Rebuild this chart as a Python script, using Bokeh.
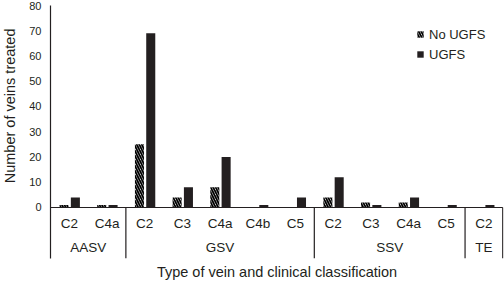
from bokeh.plotting import figure
from bokeh.models import Range1d, FixedTicker, Legend, LegendItem, ColumnDataSource, Title
from bokeh.core.properties import value
from bokeh.embed import file_html
from bokeh.resources import INLINE

# ---- data ----
groups = ["AASV", "GSV", "SSV", "TE"]
group_sizes = [2, 5, 4, 1]
classes = ["C2", "C4a", "C2", "C3", "C4a", "C4b", "C5", "C2", "C3", "C4a", "C5", "C2"]
no_ugfs = [1, 1, 25, 4, 8, 0, 0, 4, 2, 2, 0, 0]
ugfs = [4, 1, 69, 8, 20, 1, 4, 12, 1, 4, 1, 1]
y_ticks = [0, 10, 20, 30, 40, 50, 60, 70, 80]

FONT = "Liberation Sans"
INK = "#231f20"

n = len(classes)
p = figure(width=504, height=284, output_backend="svg", toolbar_location=None,
           x_range=Range1d(0, n + 0.02), y_range=Range1d(-20.2, 80),
           min_border_left=50, min_border_right=1, min_border_top=5, min_border_bottom=26)
p.outline_line_color = None
p.grid.visible = False
p.background_fill_color = "white"

# y axis
ya = p.yaxis[0]
ya.ticker = FixedTicker(ticks=y_ticks)
ya.minor_tick_line_color = None
ya.major_tick_line_color = None
ya.major_tick_out = 0
ya.major_tick_in = 0
ya.major_label_standoff = 9
ya.major_label_text_font = FONT
ya.major_label_text_font_size = "11px"
ya.major_label_text_color = INK
ya.axis_line_color = INK
ya.axis_line_width = 1.2
ya.axis_label = " "
ya.axis_label_text_font_size = "1px"
ya.axis_label_standoff = 2

p.add_layout(Title(text="Number of veins treated", align="right", offset=23, standoff=2,
                   vertical_align="top",
                   text_font=FONT, text_font_size="14.5px", text_font_style="normal",
                   text_color=INK), "left")

# x axis (title only)
xa = p.xaxis[0]
xa.ticker = FixedTicker(ticks=[])
xa.axis_line_color = None
xa.major_tick_line_color = None
xa.minor_tick_line_color = None
xa.major_tick_out = 0
xa.major_label_text_font_size = "0px"
xa.axis_label = "Type of vein and clinical classification"
xa.axis_label_text_font = FONT
xa.axis_label_text_font_size = "14.5px"
xa.axis_label_text_font_style = "normal"
xa.axis_label_text_color = INK
xa.axis_label_standoff = 5

idx = list(range(n))
src = ColumnDataSource(dict(
    xh=[i + 0.5 - 0.14 for i in idx],
    xu=[i + 0.5 + 0.16 for i in idx],
    no=no_ugfs, u=ugfs,
))
r1 = p.vbar(x="xh", top="no", bottom=0, width=0.24, source=src,
            fill_color="white", line_color=None,
            hatch_pattern="\\", hatch_color="black", hatch_scale=5, hatch_weight=1.8)
r2 = p.vbar(x="xu", top="u", bottom=0, width=0.24, source=src,
            fill_color=INK, line_color=None)

# baseline and separators
p.segment(x0=[0], y0=[0], x1=[n], y1=[0], line_color=INK, line_width=1.2)
bounds = []
acc = 0
for s in group_sizes:
    acc += s
    bounds.append(acc)
p.segment(x0=bounds, y0=[0] * len(bounds), x1=bounds, y1=[-20.2] * len(bounds),
          line_color=INK, line_width=1.2)

# category labels
p.text(x=[i + 0.5 for i in idx], y=[-6.2] * n, text=classes,
       text_font=value(FONT), text_font_size="13.5px", text_color=INK,
       text_align="center", text_baseline="middle")
starts = [b - s for b, s in zip(bounds, group_sizes)]
p.text(x=[st + s / 2 for st, s in zip(starts, group_sizes)], y=[-16.0] * len(groups),
       text=groups, text_font=value(FONT), text_font_size="13.5px", text_color=INK,
       text_align="center", text_baseline="middle")

legend = Legend(items=[LegendItem(label="No UGFS", renderers=[r1]),
                       LegendItem(label="UGFS", renderers=[r2])],
                location=(366, 194), orientation="vertical",
                glyph_width=8, glyph_height=8, label_standoff=5, label_height=20,
                spacing=0, padding=0, margin=0,
                label_text_font=FONT, label_text_font_size="13px", label_text_color=INK,
                border_line_color=None, background_fill_alpha=0)
p.add_layout(legend)

open("out.html", "w").write(file_html(p, INLINE))
